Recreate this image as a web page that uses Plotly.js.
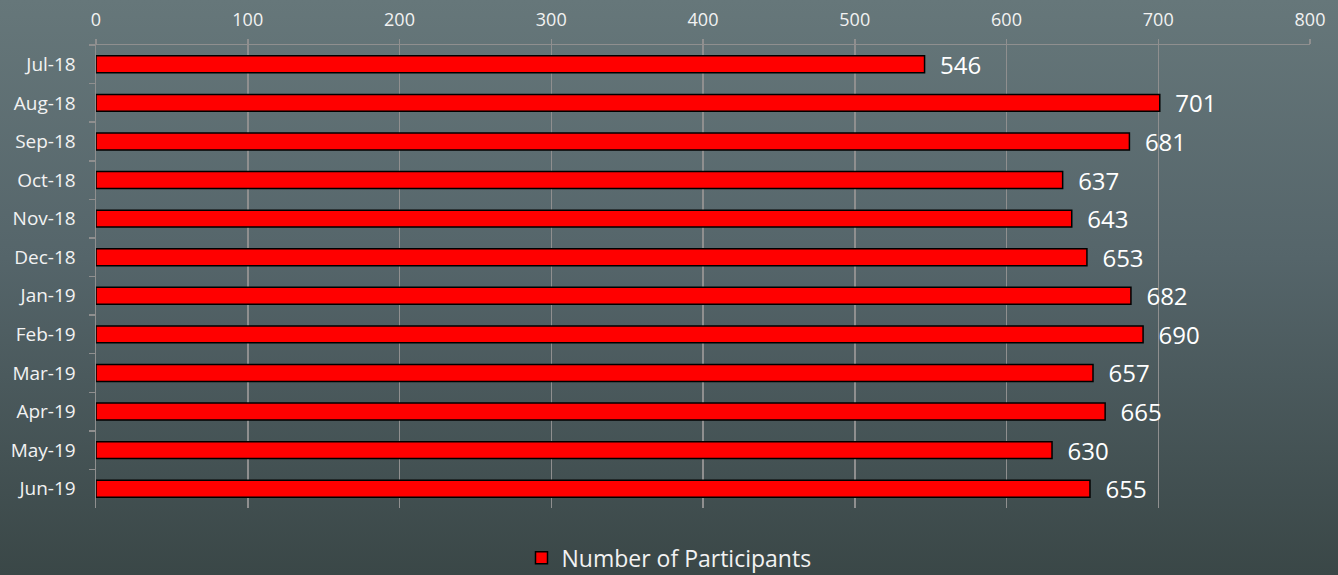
<!DOCTYPE html>
<html>
<head>
<meta charset="utf-8">
<script src="https://cdn.plot.ly/plotly-3.0.1.min.js"></script>
<style>
html, body { margin:0; padding:0; width:1338px; height:575px; overflow:hidden;
  background: linear-gradient(to bottom, #66777a 0%, #55656a 45%, #3a4747 100%); }
#chart { width:1338px; height:575px; }
</style>
</head>
<body>
<div id="chart"></div>
<script>
const months = ["Jul-18","Aug-18","Sep-18","Oct-18","Nov-18","Dec-18","Jan-19","Feb-19","Mar-19","Apr-19","May-19","Jun-19"];
const participants = [546, 701, 681, 637, 643, 653, 682, 690, 657, 665, 630, 655];
const xTicks = [0, 100, 200, 300, 400, 500, 600, 700, 800];
const seriesName = "Number of Participants";

const trace = {
  type: "bar",
  orientation: "h",
  y: months,
  x: participants,
  name: seriesName,
  marker: { color: "#ff0000", line: { color: "#000000", width: 1.5 } },
  texttemplate: "\u00a0\u00a0%{x}",
  textposition: "outside",
  textfont: { family: "Open Sans, sans-serif", size: 24, color: "#ffffff" },
  constraintext: "none",
  cliponaxis: false,
  hoverinfo: "none"
};

const layout = {
  width: 1338, height: 575,
  paper_bgcolor: "rgba(0,0,0,0)",
  plot_bgcolor: "rgba(0,0,0,0)",
  margin: { l: 96, r: 28, t: 45, b: 67, autoexpand: false },
  bargap: 0.56,
  font: { family: "Open Sans, sans-serif", color: "#f2f2f2" },
  xaxis: {
    side: "top", range: [0, 800], tickvals: xTicks, ticktext: xTicks.map(String),
    showgrid: true, gridcolor: "#8f8f8f", gridwidth: 1.5,
    showline: true, linecolor: "#8f8f8f", linewidth: 1.5,
    ticks: "outside", ticklen: 5, tickcolor: "#8f8f8f", tickwidth: 1.5,
    ticklabelstandoff: 5,
    tickfont: { size: 18, color: "#f2f2f2" }, zeroline: false, fixedrange: true
  },
  yaxis: {
    type: "category", autorange: "reversed",
    showline: true, linecolor: "#8f8f8f", linewidth: 1.5,
    ticks: "outside", tickson: "boundaries", ticklen: 6, tickcolor: "#8f8f8f", tickwidth: 1.5,
    ticklabelstandoff: 15,
    tickfont: { size: 19, color: "#f2f2f2" }, showgrid: false, fixedrange: true
  },
  showlegend: true,
  legend: {
    orientation: "h", x: 0.5, xanchor: "center", xref: "container",
    y: 0.03, yanchor: "middle", yref: "container",
    font: { size: 23, color: "#f2f2f2" }, bgcolor: "rgba(0,0,0,0)"
  }
};

Plotly.newPlot("chart", [trace], layout, { displayModeBar: false, staticPlot: true });
</script>
</body>
</html>
